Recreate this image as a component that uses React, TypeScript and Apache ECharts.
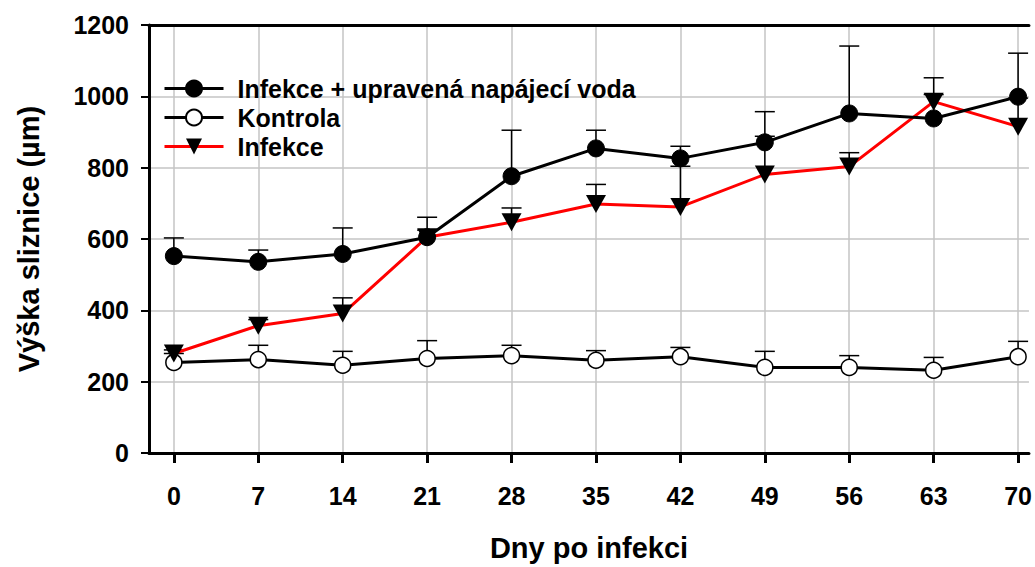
import React, { useEffect, useRef } from "react";
import * as echarts from "echarts";

const days = [0, 7, 14, 21, 28, 35, 42, 49, 56, 63, 70];
const yTicks = [0, 200, 400, 600, 800, 1000, 1200];

const nameVoda = "Infekce + upravená napájecí voda";
const nameKontrola = "Kontrola";
const nameInfekce = "Infekce";

const vodaMean = [552, 536, 558, 605, 776, 854, 826, 871, 952, 938, 999];
const vodaSd = [51, 33, 73, 56, 129, 51, 34, 86, 189, 67, 122];

const kontrolaMean = [254, 262, 246, 265, 273, 260, 270, 240, 240, 232, 270];
const kontrolaSd = [25, 40, 39, 50, 29, 27, 26, 45, 33, 36, 43];

const infekceMean = [279, 357, 391, 605, 647, 698, 690, 781, 803, 985, 915];
const infekceSd = [10, 17, 44, 20, 40, 55, 114, 107, 39, 67, 80];

const FONT = "'Liberation Sans', Arial, Helvetica, sans-serif";

function pairs(vals: number[]) {
  return days.map((d, i) => [d, vals[i]]);
}
function errData(vals: number[], sd: number[]) {
  return days.map((d, i) => [d, vals[i], vals[i] + sd[i]]);
}

function errorSeries(vals: number[], sd: number[], z: number) {
  return {
    type: "custom",
    z,
    silent: true,
    data: errData(vals, sd),
    encode: { x: 0, y: [1, 2] },
    renderItem: (params: any, api: any) => {
      const x = api.value(0);
      const lo = api.coord([x, api.value(1)]);
      const hi = api.coord([x, api.value(2)]);
      const half = 10;
      const style = { stroke: "#000", lineWidth: 1.5 };
      return {
        type: "group",
        children: [
          { type: "line", shape: { x1: lo[0], y1: lo[1], x2: hi[0], y2: hi[1] }, style },
          { type: "line", shape: { x1: hi[0] - half, y1: hi[1], x2: hi[0] + half, y2: hi[1] }, style },
        ],
      };
    },
  };
}

export default function App() {
  const ref = useRef<HTMLDivElement>(null);
  useEffect(() => {
    const chart = echarts.init(ref.current!, null, { renderer: "svg" });
    const xMin = -2.06;
    const xMax = 70.9;
    const gridColor = "#c4c4c4";
    chart.setOption({
      animation: false,
      backgroundColor: "#ffffff",
      grid: { left: 149, top: 25, right: 0, bottom: 112, containLabel: false },
      legend: {
        data: [nameVoda, nameKontrola, nameInfekce],
        orient: "vertical",
        left: 163,
        top: 74,
        padding: 0,
        itemWidth: 59,
        itemHeight: 20,
        itemGap: 0,
        lineStyle: { width: 3 },
        textStyle: {
          fontFamily: FONT,
          fontWeight: "bold",
          fontSize: 25,
          lineHeight: 29,
          color: "#000",
          padding: [0, 0, 0, 9],
        },
      },
      xAxis: [
        {
          type: "value",
          min: xMin,
          max: xMax,
          position: "bottom",
          name: "Dny po infekci",
          nameLocation: "middle",
          nameGap: 80,
          nameTextStyle: { fontFamily: FONT, fontWeight: "bold", fontSize: 29, color: "#000" },
          axisLine: { show: true, onZero: false, lineStyle: { color: "#000", width: 3 } },
          axisTick: { show: true, inside: false, length: 10, lineStyle: { color: "#000", width: 3 }, customValues: days },
          axisLabel: {
            customValues: days,
            margin: 30,
            fontFamily: FONT,
            fontWeight: "bold",
            fontSize: 25,
            color: "#000",
          },
          splitLine: { show: true, lineStyle: { color: gridColor, width: 1.5 } },
        },
        {
          type: "value",
          min: xMin,
          max: xMax,
          position: "top",
          axisLine: { show: true, onZero: false, lineStyle: { color: "#000", width: 3 } },
          axisTick: { show: false },
          axisLabel: { show: false },
          splitLine: { show: false },
        },
      ],
      yAxis: {
        type: "value",
        min: 0,
        max: 1200,
        interval: 200,
        name: "Výška sliznice (µm)",
        nameLocation: "middle",
        nameGap: 106,
        nameTextStyle: { fontFamily: FONT, fontWeight: "bold", fontSize: 29, color: "#000" },
        axisLine: { show: true, onZero: false, lineStyle: { color: "#000", width: 3 } },
        axisTick: { show: true, inside: false, length: 8, lineStyle: { color: "#000", width: 2 } },
        axisLabel: {
          margin: 20,
          fontFamily: FONT,
          fontWeight: "bold",
          fontSize: 25,
          color: "#000",
          customValues: yTicks,
          formatter: (v: number) => String(v),
        },
        splitLine: { show: true, lineStyle: { color: gridColor, width: 1.5 } },
      },
      series: [
        errorSeries(infekceMean, infekceSd, 1),
        errorSeries(kontrolaMean, kontrolaSd, 1),
        errorSeries(vodaMean, vodaSd, 1),
        {
          name: nameKontrola,
          type: "line",
          z: 3,
          data: pairs(kontrolaMean),
          symbol: "circle",
          symbolSize: 16,
          lineStyle: { color: "#000", width: 3 },
          itemStyle: { color: "#fff", borderColor: "#000", borderWidth: 1.5 },
        },
        {
          name: nameInfekce,
          type: "line",
          z: 4,
          data: pairs(infekceMean),
          symbol: "triangle",
          symbolRotate: 180,
          symbolSize: [20, 18],
          lineStyle: { color: "#ff0000", width: 3 },
          itemStyle: { color: "#000", borderColor: "#000", borderWidth: 0 },
        },
        {
          name: nameVoda,
          type: "line",
          z: 5,
          data: pairs(vodaMean),
          symbol: "circle",
          symbolSize: 17,
          lineStyle: { color: "#000", width: 3 },
          itemStyle: { color: "#000", borderColor: "#000", borderWidth: 1 },
        },
      ],
    });
    return () => chart.dispose();
  }, []);
  return (
    <div
      ref={ref}
      style={{ position: "absolute", left: 0, top: 0, width: 1035, height: 567, background: "#fff" }}
    />
  );
}
